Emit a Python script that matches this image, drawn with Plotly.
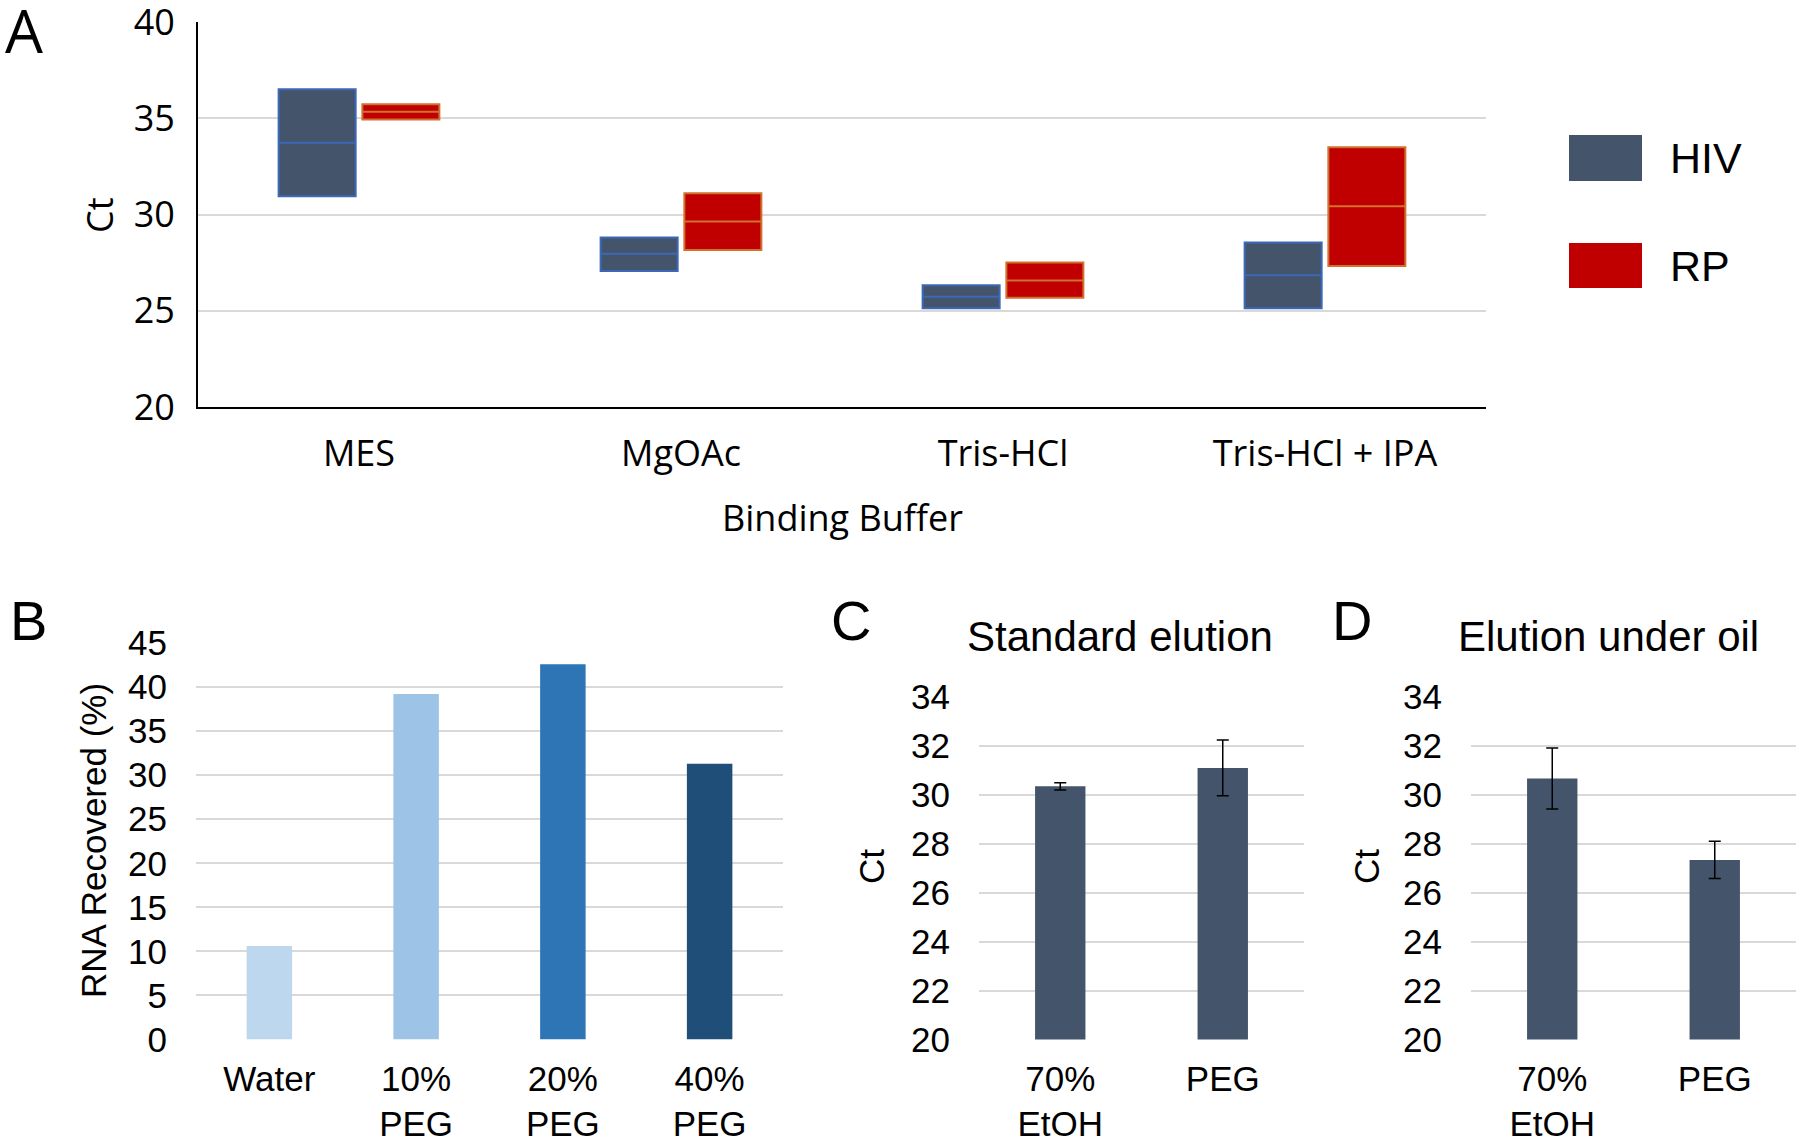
import plotly.graph_objects as go

# ---------------- Data ----------------
# Panel A: Ct ranges by binding buffer (min, median, max)
buffers = ["MES", "MgOAc", "Tris-HCl", "Tris-HCl + IPA"]
hiv_min = [30.95, 27.07, 25.13, 25.13]
hiv_med = [33.73, 27.96, 25.73, 26.85]
hiv_max = [36.51, 28.81, 26.33, 28.55]
rp_min = [34.94, 28.16, 25.68, 27.33]
rp_med = [35.34, 29.63, 26.57, 30.43]
rp_max = [35.73, 31.11, 27.51, 33.50]
series_names = ["HIV", "RP"]

# Panel B: RNA recovered (%)
wash_labels = ["Water", "10%<br>PEG", "20%<br>PEG", "40%<br>PEG"]
rna_recovered = [10.6, 39.2, 42.6, 31.3]

# Panel C: Standard elution
wash2_labels = ["70%<br>EtOH", "PEG"]
std_ct = [30.35, 31.1]
std_err = [0.15, 1.14]

# Panel D: Elution under oil
oil_ct = [30.67, 27.34]
oil_err = [1.25, 0.76]

# ---------------- Styling ----------------
W, H = 1800, 1142
FA = "Open Sans"
FB = "Liberation Sans"
HIV_FILL, HIV_LINE = "#44546A", "#3C68B8"
RP_FILL, RP_LINE = "#C00000", "#D0712E"
GRID = "#D9D9D9"
B_COLORS = ["#BDD7EE", "#9DC3E6", "#2E75B6", "#1F4E79"]
CT_COLOR = "#44546A"


def px(x):
    return x / W


def py(y):
    return 1 - y / H


fig = go.Figure()

# Panel A boxes
fig.add_trace(go.Box(
    name=series_names[0], x=buffers, q1=hiv_min, median=hiv_med, q3=hiv_max,
    lowerfence=hiv_min, upperfence=hiv_max, fillcolor=HIV_FILL,
    line=dict(color=HIV_LINE, width=2), whiskerwidth=0, showlegend=False,
    xaxis="x", yaxis="y", hoverinfo="skip"))
fig.add_trace(go.Box(
    name=series_names[1], x=buffers, q1=rp_min, median=rp_med, q3=rp_max,
    lowerfence=rp_min, upperfence=rp_max, fillcolor=RP_FILL,
    line=dict(color=RP_LINE, width=2), whiskerwidth=0, showlegend=False,
    xaxis="x", yaxis="y", hoverinfo="skip"))

# Panel B bars
fig.add_trace(go.Bar(x=wash_labels, y=rna_recovered, marker=dict(color=B_COLORS, line=dict(width=0)),
                     showlegend=False, xaxis="x2", yaxis="y2"))

# Panel C bars
fig.add_trace(go.Bar(x=wash2_labels, y=std_ct, marker=dict(color=CT_COLOR, line=dict(width=0)),
                     error_y=dict(type="data", array=std_err, color="black", thickness=1.5, width=6),
                     showlegend=False, xaxis="x3", yaxis="y3"))

# Panel D bars
fig.add_trace(go.Bar(x=wash2_labels, y=oil_ct, marker=dict(color=CT_COLOR, line=dict(width=0)),
                     error_y=dict(type="data", array=oil_err, color="black", thickness=1.5, width=6),
                     showlegend=False, xaxis="x4", yaxis="y4"))

tickA = dict(family=FA, size=36, color="black")
tickB = dict(family=FB, size=35, color="black")

common = dict(automargin=False, fixedrange=True, ticks="", zeroline=False, ticklabeloverflow="allow")

fig.update_layout(
    template="none",
    width=W, height=H,
    margin=dict(l=0, r=0, t=0, b=0, autoexpand=False),
    paper_bgcolor="white", plot_bgcolor="white",
    boxmode="group", boxgap=0.48, boxgroupgap=0.08,
    bargap=0.69,
    showlegend=False,
    xaxis=dict(domain=[px(198), px(1486)], anchor="y", showline=True, linecolor="black", linewidth=2,
               showgrid=False, tickfont=tickA, ticklabelstandoff=14, **common),
    yaxis=dict(domain=[py(407), py(22)], anchor="x", range=[20, 40], dtick=5, showline=True,
               linecolor="black", linewidth=2, showgrid=True, gridcolor=GRID, gridwidth=2,
               tickfont=tickA, ticklabelstandoff=14, **common),
    xaxis2=dict(domain=[px(196), px(783)], anchor="y2", showline=False, showgrid=False,
                tickfont=tickB, ticklabelstandoff=15, **common),
    yaxis2=dict(domain=[py(1039.5), py(643)], anchor="x2", range=[0, 45], dtick=5, showline=False,
                showgrid=True, gridcolor=GRID, gridwidth=2,
                tickfont=tickB, ticklabelstandoff=28, **common),
    xaxis3=dict(domain=[px(979), px(1304)], anchor="y3", showline=False, showgrid=False,
                tickfont=tickB, ticklabelstandoff=15, **common),
    yaxis3=dict(domain=[py(1039.5), py(697)], anchor="x3", range=[20, 34], dtick=2, showline=False,
                showgrid=True, gridcolor=GRID, gridwidth=2,
                tickfont=tickB, ticklabelstandoff=28, **common),
    xaxis4=dict(domain=[px(1471), px(1796)], anchor="y4", showline=False, showgrid=False,
                tickfont=tickB, ticklabelstandoff=15, **common),
    yaxis4=dict(domain=[py(1039.5), py(697)], anchor="x4", range=[20, 34], dtick=2, showline=False,
                showgrid=True, gridcolor=GRID, gridwidth=2,
                tickfont=tickB, ticklabelstandoff=28, **common),
)

ann = []


def text(x, y, s, family, size, angle=0, xanchor="center"):
    ann.append(dict(x=px(x), y=py(y), xref="paper", yref="paper", text=s, showarrow=False,
                    xanchor=xanchor, yanchor="middle", textangle=angle,
                    font=dict(family=family, size=size, color="black")))


# Panel letters
text(24, 30, "A", FA, 60)
text(28, 620, "B", FB, 56)
text(851, 620, "C", FB, 56)
text(1352, 620, "D", FB, 56)
# Axis titles
text(99, 215, "Ct", FA, 36, angle=-90)
text(842, 517, "Binding Buffer", FA, 36)
text(93, 841, "RNA Recovered (%)", FB, 35, angle=-90)
text(871, 867, "Ct", FB, 35, angle=-90)
text(1366, 867, "Ct", FB, 35, angle=-90)
# Panel titles
text(1120, 636, "Standard elution", FB, 42)
text(1608, 636, "Elution under oil", FB, 42)

# Legend for panel A
shapes = []
legend_items = [(series_names[0], HIV_FILL, 135, 181), (series_names[1], RP_FILL, 243, 288)]
for name, col, y0, y1 in legend_items:
    shapes.append(dict(type="rect", xref="paper", yref="paper", x0=px(1569), x1=px(1642),
                       y0=py(y1), y1=py(y0), fillcolor=col, line=dict(width=0)))
    text(1668, (y0 + y1) / 2, name, FB, 43, xanchor="left")

fig.update_layout(annotations=ann, shapes=shapes)

fig.write_html("out.html", config={"responsive": False, "displayModeBar": False},
               post_script="document.body.style.margin='0px';document.body.style.overflow='hidden';")
